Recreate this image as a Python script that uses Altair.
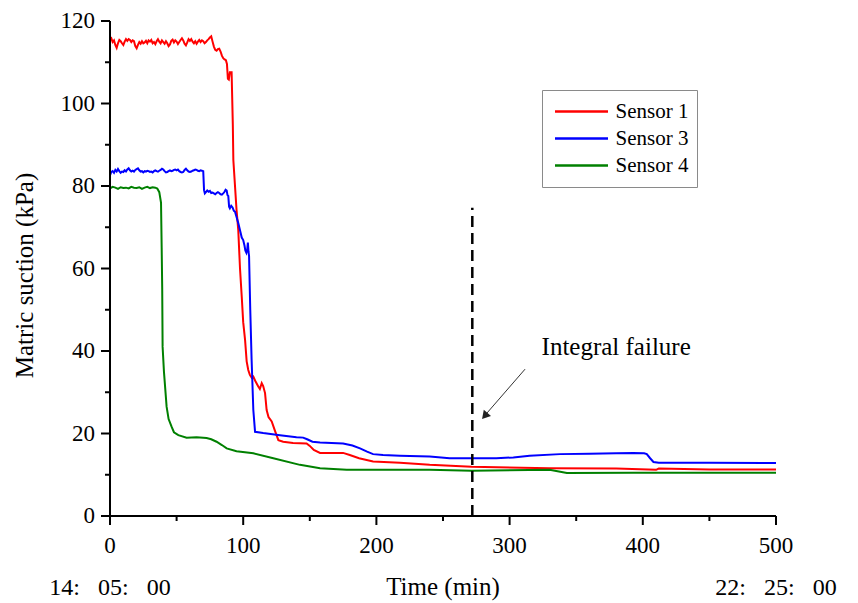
import altair as alt
import pandas as pd

# ---------------- data ----------------
series_names = ["Sensor 1", "Sensor 3", "Sensor 4"]
series_colors = ["#ff0000", "#0000ff", "#008000"]

s1_t = [0, 1, 2, 3, 4, 5, 6, 7, 8, 9, 10, 11, 12, 13, 14, 15, 16, 17, 18, 19,
        20, 21, 22, 23, 24, 25, 26, 27, 28, 29, 30, 31, 32, 33, 34, 35, 36, 37, 38, 39,
        40, 41, 42, 43, 44, 45, 46, 47, 48, 49, 50, 51, 52, 53, 54, 55, 56, 57, 58, 59,
        60, 61, 62, 63, 64, 65, 66, 67, 68, 69, 70, 71, 72, 73, 74, 75, 76, 77, 78, 79,
        80, 81, 82, 83, 84, 85, 86, 87, 87.8, 88.5, 89.2, 90, 91.3, 92.2, 92.6, 95, 96.3,
        97.6, 98.9, 100, 101.4, 102.6, 103.8, 105, 106.4, 107.6, 109, 111.3, 112.5, 113.9,
        115, 116.4, 117.6, 119, 121.4, 124, 126.4, 130, 137.4, 147.6, 150, 153, 157.7, 175,
        180, 187, 197.5, 217.7, 240, 271.5, 330, 380, 410, 412, 450, 500]
s1_v = [115.5, 115.8, 114.9, 115.3, 114.2, 113.5, 114.6, 115.4, 115.1, 114.6, 114.2, 115.0,
        115.6, 115.2, 115.6, 115.4, 114.9, 115.3, 115.1, 113.9, 113.4, 114.2, 114.9, 114.5,
        115.1, 114.6, 114.8, 115.2, 114.6, 115.3, 115.0, 115.4, 114.6, 114.9, 114.4, 115.1,
        115.6, 115.0, 114.6, 115.3, 114.9, 114.5, 115.1, 114.6, 113.9, 114.3, 115.2, 115.5,
        114.8, 115.3, 115.0, 114.4, 114.9, 115.4, 115.8, 115.3, 114.5, 114.1, 114.8, 115.6,
        115.2, 115.6, 115.0, 114.6, 115.1, 114.5, 115.0, 115.4, 114.9, 115.3, 115.1, 114.6,
        114.9, 115.3, 115.6, 116.0, 116.3, 115.0, 113.8, 113.0, 112.8, 113.2, 113.3, 112.6,
        111.6, 111.0, 110.7, 110.5, 109.6, 106.0, 105.8, 107.6, 107.6, 95.0, 86.3, 74.2, 69.3,
        60.0, 53.2, 47.0, 42.7, 37.5, 35.4, 34.2, 33.5, 33.8, 32.8, 31.4, 30.8, 32.2,
        31.5, 29.8, 25.7, 24.0, 22.9, 20.5, 18.4, 18.0, 17.7, 17.6, 17.0, 16.0, 15.3, 15.3,
        14.8, 14.0, 13.2, 12.9, 12.4, 11.95, 11.6, 11.5, 11.2, 11.5, 11.3, 11.3]

s3_t = [0, 1, 2, 3, 4, 5, 6, 7, 8, 9, 10, 11, 12, 13, 14, 15, 16, 17, 18, 19,
        20, 21, 22, 23, 24, 25, 26, 27, 28, 29, 30, 31, 32, 33, 34, 35, 36, 37, 38, 39,
        40, 41, 42, 43, 44, 45, 46, 47, 48, 49, 50, 51, 52, 53, 54, 55, 56, 57, 58, 59,
        60, 61, 62, 63, 64, 65, 66, 67, 68, 69, 70, 70.6, 71.2, 72, 73, 74, 75, 76, 77, 78,
        79, 80, 81, 82, 83, 84, 85, 86, 86.8, 87.6, 88.2, 88.8, 89.4, 90, 91, 92, 93, 93.8,
        95, 96.3, 97.6, 98.9, 100, 101, 101.6, 102.4, 103, 103.5, 104, 104.4, 105.3, 106.3,
        107.6, 108.9, 115, 127.6, 140, 145, 148, 152, 157.7, 175, 182, 187.7, 193, 197.5,
        205, 217.7, 240, 255, 272, 290, 302.8, 315, 337.8, 360, 380, 392.8, 401, 403,
        405.5, 408, 412, 450, 500]
s3_v = [82.6, 83.4, 83.6, 83.2, 83.9, 83.5, 84.1, 83.6, 83.2, 83.5, 83.4, 83.8, 83.5, 84.0,
        84.3, 83.8, 83.5, 83.7, 83.5, 83.9, 84.1, 84.3, 83.8, 83.5, 83.6, 83.3, 83.6, 83.5,
        83.7, 83.6, 83.4, 83.5, 83.3, 83.6, 83.8, 83.6, 83.5, 83.7, 83.9, 84.2, 84.0, 83.6,
        83.3, 83.4, 83.6, 83.8, 83.6, 83.7, 83.9, 84.0, 83.8, 84.0, 83.6, 83.4, 83.3, 83.4,
        83.9, 84.2, 83.8, 83.5, 83.4, 83.5, 83.7, 83.8, 84.0, 83.9, 83.7, 83.6, 83.8, 83.7,
        83.6, 79.0, 78.2, 78.5, 78.9, 78.6, 78.8, 78.3, 78.4, 78.2, 78.0, 78.3, 78.5, 78.3,
        78.0, 77.9, 78.2, 78.6, 79.1, 78.9, 77.8, 77.6, 75.0, 74.6, 75.2, 74.8, 74.0, 73.8,
        72.5, 71.0, 69.3, 67.5, 66.9, 65.5, 64.4, 63.8, 64.5, 66.3, 64.0, 63.0, 50.0, 38.0,
        25.7, 20.4, 20.1, 19.6, 19.1, 19.0, 18.6, 18.0, 17.8, 17.6, 17.1, 16.4, 15.6, 15.0,
        14.8, 14.6, 14.4, 14.0, 14.0, 14.0, 14.2, 14.6, 15.0, 15.1, 15.2, 15.3, 15.2, 15.0,
        14.0, 13.1, 12.9, 12.9, 12.85]

s4_t = [0, 2, 4, 6, 8, 10, 12, 14, 16, 18, 20, 22, 24, 26, 28, 30, 32, 34, 35.5, 37,
        38.3, 38.8, 39.2, 39.5, 40.5, 42.5, 44, 46.3, 48, 51.3, 57.5, 65, 72.5, 76, 80, 84,
        87.6, 95, 107.6, 122.6, 142.6, 157.7, 177.7, 240, 271.5, 330, 337, 343, 392.8, 500]
s4_v = [79.4, 79.8, 79.6, 79.3, 79.7, 79.5, 79.6, 79.4, 79.8, 79.6, 79.5, 79.7, 79.3, 79.6,
        79.8, 79.5, 79.7, 79.6, 79.4, 78.5, 76.0, 65.0, 55.0, 41.0, 35.0, 26.5, 23.5, 21.6,
        20.3, 19.6, 19.0, 19.1, 18.9, 18.6, 18.0, 17.2, 16.4, 15.7, 15.2, 14.0, 12.4, 11.6,
        11.2, 11.2, 11.0, 11.2, 10.8, 10.4, 10.5, 10.5]

x_major = [0, 100, 200, 300, 400, 500]
x_minor = [50, 150, 250, 350, 450]
y_major = [0, 20, 40, 60, 80, 100, 120]
y_minor = [10, 30, 50, 70, 90, 110]
x_title = "Time (min)"
y_title = "Matric suction (kPa)"

failure_t = [272]
failure_top = [74.7]
annotation_text = ["Integral failure"]
annotation_t = [380]
annotation_v = [39]
arrow_start = (311.6, 35.6)
arrow_end = (281.5, 24.4)
arrow_tip = (282.0, 24.5)
clock_labels = ["14:\u2002 05:\u2002 00", "22:\u2002 25:\u2002 00"]
clock_t = [0, 500]

# ---------------- tables ----------------
rows = []
for name, ts, vs in zip(series_names, [s1_t, s3_t, s4_t], [s1_v, s3_v, s4_v]):
    for i, (t, v) in enumerate(zip(ts, vs)):
        rows.append({"series": name, "t": t, "v": v, "i": i})
df = pd.DataFrame(rows)

SERIF = "Liberation Serif"
W, H = 666, 495
x_scale = alt.Scale(domain=[x_major[0], x_major[-1]], nice=False)
y_scale = alt.Scale(domain=[y_major[0], y_major[-1]], nice=False)

X = alt.X("t:Q", scale=x_scale, axis=None)
Y = alt.Y("v:Q", scale=y_scale, axis=None)

lines = alt.Chart(df).mark_line(strokeWidth=2).encode(
    x=X,
    y=Y,
    color=alt.Color(
        "series:N",
        scale=alt.Scale(domain=series_names, range=series_colors),
        legend=alt.Legend(
            title=None, orient="none", legendX=432, legendY=69,
            symbolType="stroke", symbolSize=2809, symbolStrokeWidth=2.5,
            clipHeight=27, rowPadding=0, padding=8, symbolOffset=3.5,
            labelOffset=6, labelFont=SERIF, labelFontSize=21, labelColor="black",
            labelLimit=300, strokeColor="#8a8a8a", fillColor="white",
        ),
    ),
    detail="series:N",
    order="i:Q",
)

# ---- axes drawn from the tick lists through the same scales ----
xdom = pd.DataFrame({"t": [x_major[0]], "t2": [x_major[-1]], "v": [y_major[0]]})
x_domain = alt.Chart(xdom).mark_rule(color="black", strokeWidth=2, clip=False).encode(
    x=X, x2="t2:Q", y=Y)
ydom = pd.DataFrame({"t": [x_major[0]], "v": [y_major[0]], "v2": [y_major[-1]]})
y_domain = alt.Chart(ydom).mark_rule(color="black", strokeWidth=2, clip=False).encode(
    x=X, y=Y, y2="v2:Q")

def xticks(vals, length):
    d = pd.DataFrame({"t": vals})
    return alt.Chart(d).mark_rule(color="black", strokeWidth=2, clip=False).encode(
        x=X, y=alt.value(H), y2=alt.value(H + length))

def yticks(vals, length):
    d = pd.DataFrame({"v": vals})
    return alt.Chart(d).mark_rule(color="black", strokeWidth=2, clip=False).encode(
        y=Y, x=alt.value(-length), x2=alt.value(0))

ticks = [xticks(x_major, 9), xticks(x_minor, 5), yticks(y_major, 9), yticks(y_minor, 5)]

xl = pd.DataFrame({"t": x_major, "txt": [str(v) for v in x_major]})
x_labels = alt.Chart(xl).mark_text(
    font=SERIF, fontSize=23, color="black", align="center", baseline="alphabetic", clip=False
).encode(x=X, y=alt.value(H + 37), text="txt:N")
yl = pd.DataFrame({"v": y_major, "txt": [str(v) for v in y_major]})
y_labels = alt.Chart(yl).mark_text(
    font=SERIF, fontSize=23, color="black", align="right", baseline="middle", clip=False
).encode(y=Y, x=alt.value(-15), text="txt:N")

xt = pd.DataFrame({"t": [(x_major[0] + x_major[-1]) / 2], "txt": [x_title]})
x_title_mark = alt.Chart(xt).mark_text(
    font=SERIF, fontSize=25, color="black", align="center", baseline="alphabetic", clip=False
).encode(x=X, y=alt.value(H + 79), text="txt:N")
yt = pd.DataFrame({"txt": [y_title]})
y_title_mark = alt.Chart(yt).mark_text(
    font=SERIF, fontSize=25, color="black", align="center", baseline="alphabetic",
    angle=270, clip=False
).encode(x=alt.value(-77), y=alt.value(H / 2 + 7), text="txt:N")

# ---- annotations ----
fail_df = pd.DataFrame({"t": failure_t, "v": [0] * len(failure_t), "y1": failure_top})
fail_line = alt.Chart(fail_df).mark_rule(
    color="black", strokeWidth=2.5, strokeDash=[11, 6]
).encode(x=X, y=Y, y2="y1:Q")

arrow_df = pd.DataFrame({"t": [arrow_start[0]], "v": [arrow_start[1]],
                         "t2": [arrow_end[0]], "v2": [arrow_end[1]]})
arrow_line = alt.Chart(arrow_df).mark_rule(color="#333333", strokeWidth=1).encode(
    x=X, y=Y, x2="t2:Q", y2="v2:Q"
)
tip_df = pd.DataFrame({"t": [arrow_tip[0]], "v": [arrow_tip[1]]})
arrow_head = alt.Chart(tip_df).mark_point(
    shape="triangle", filled=True, size=90, angle=220.6, color="#222222", opacity=1
).encode(x=X, y=Y)

ann_df = pd.DataFrame({"t": annotation_t, "v": annotation_v, "txt": annotation_text})
annotation = alt.Chart(ann_df).mark_text(
    font=SERIF, fontSize=25, color="black", align="center", baseline="alphabetic"
).encode(x=X, y=Y, text="txt:N")

clock_df = pd.DataFrame({"t": clock_t, "txt": clock_labels})
clocks = alt.Chart(clock_df).mark_text(
    font=SERIF, fontSize=24, color="black", align="center",
    baseline="alphabetic", clip=False
).encode(x=X, y=alt.value(H + 79), text="txt:N")

chart = alt.layer(
    lines, x_domain, y_domain, *ticks, x_labels, y_labels, x_title_mark, y_title_mark,
    fail_line, arrow_line, arrow_head, annotation, clocks
).properties(
    width=W, height=H,
    autosize=alt.AutoSizeParams(type="none"),
    padding={"left": 110, "top": 21, "right": 82, "bottom": 87},
    background="white",
).configure_view(stroke=None)

chart.save("out.html", embed_options={"renderer": "svg", "actions": False})
